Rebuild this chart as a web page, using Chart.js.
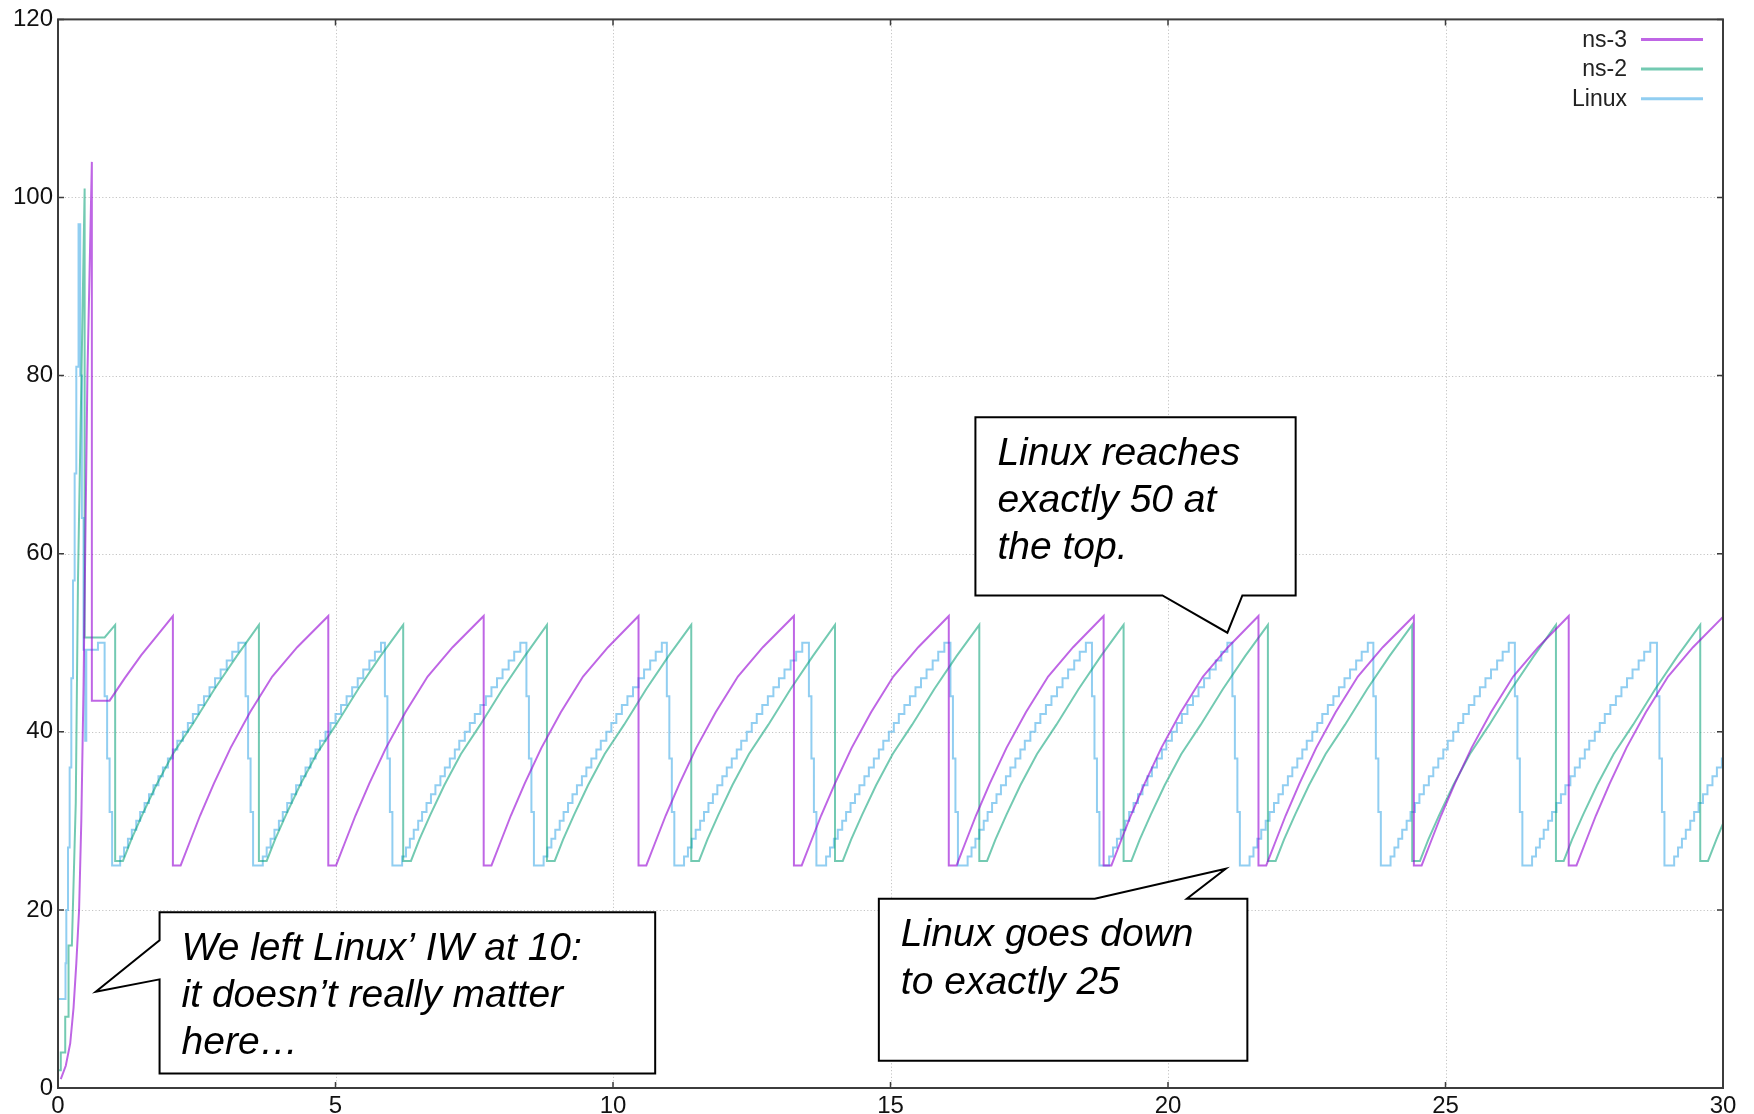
<!DOCTYPE html>
<html>
<head>
<meta charset="utf-8">
<script src="https://cdn.jsdelivr.net/npm/chart.js@4.4.1/dist/chart.umd.min.js"></script>
<style>
  html, body { margin: 0; padding: 0; background: #fff; }
  #wrap { width: 1754px; height: 1114px; position: relative; }
</style>
</head>
<body>
<div id="wrap"><canvas id="cwnd"></canvas></div>
<script>
// cwnd (segments) over time (s)
const ns3Time = [
  0.05, 0.14, 0.22, 0.28, 0.33, 0.38, 0.42, 0.46, 0.53, 0.61, 0.61, 0.93, 1.2, 1.5, 1.8,
  2.07, 2.07, 2.21, 2.36, 2.56, 2.81, 3.11, 3.46, 3.86, 4.31,
  4.87, 4.87, 5.01, 5.16, 5.36, 5.61, 5.91, 6.26, 6.66, 7.11,
  7.67, 7.67, 7.81, 7.96, 8.16, 8.41, 8.71, 9.06, 9.46, 9.91,
  10.46, 10.46, 10.60, 10.75, 10.95, 11.20, 11.50, 11.85, 12.25, 12.70,
  13.26, 13.26, 13.40, 13.55, 13.75, 14.00, 14.30, 14.65, 15.05, 15.50,
  16.05, 16.05, 16.19, 16.34, 16.54, 16.79, 17.09, 17.44, 17.84, 18.29,
  18.84, 18.84, 18.98, 19.13, 19.33, 19.58, 19.88, 20.23, 20.63, 21.08,
  21.63, 21.63, 21.77, 21.92, 22.12, 22.37, 22.67, 23.02, 23.42, 23.87,
  24.43, 24.43, 24.57, 24.72, 24.92, 25.17, 25.47, 25.82, 26.22, 26.67,
  27.22, 27.22, 27.36, 27.51, 27.71, 27.96, 28.26, 28.61, 29.01, 29.46, 30.00
];
const ns3Cwnd = [
  1, 2.5, 5, 9, 14, 20, 30, 45, 80, 104, 43.5, 43.5, 46.0, 48.6, 50.9,
  53, 25, 25, 27.4, 30.6, 34.2, 38.2, 42.2, 46.2, 49.5,
  53, 25, 25, 27.4, 30.6, 34.2, 38.2, 42.2, 46.2, 49.5,
  53, 25, 25, 27.4, 30.6, 34.2, 38.2, 42.2, 46.2, 49.5,
  53, 25, 25, 27.4, 30.6, 34.2, 38.2, 42.2, 46.2, 49.5,
  53, 25, 25, 27.4, 30.6, 34.2, 38.2, 42.2, 46.2, 49.5,
  53, 25, 25, 27.4, 30.6, 34.2, 38.2, 42.2, 46.2, 49.5,
  53, 25, 25, 27.4, 30.6, 34.2, 38.2, 42.2, 46.2, 49.5,
  53, 25, 25, 27.4, 30.6, 34.2, 38.2, 42.2, 46.2, 49.5,
  53, 25, 25, 27.4, 30.6, 34.2, 38.2, 42.2, 46.2, 49.5,
  53, 25, 25, 27.4, 30.6, 34.2, 38.2, 42.2, 46.2, 49.5, 52.9
];

const ns2Time = [
  0, 0.05, 0.05, 0.13, 0.13, 0.19, 0.19, 0.25, 0.32, 0.36, 0.48, 0.48, 0.84,
  1.03, 1.03, 1.17, 1.32, 1.52, 1.77, 2.07, 2.42, 2.82, 3.22,
  3.62, 3.62, 3.76, 3.91, 4.11, 4.36, 4.66, 5.01, 5.41, 5.81,
  6.22, 6.22, 6.36, 6.51, 6.71, 6.96, 7.26, 7.61, 8.01, 8.41,
  8.81, 8.81, 8.95, 9.10, 9.30, 9.55, 9.85, 10.20, 10.60, 11.00,
  11.41, 11.41, 11.55, 11.70, 11.90, 12.15, 12.45, 12.80, 13.20, 13.60,
  14.00, 14.00, 14.14, 14.29, 14.49, 14.74, 15.04, 15.39, 15.79, 16.19,
  16.60, 16.60, 16.74, 16.89, 17.09, 17.34, 17.64, 17.99, 18.39, 18.79,
  19.20, 19.20, 19.34, 19.49, 19.69, 19.94, 20.24, 20.59, 20.99, 21.39,
  21.80, 21.80, 21.94, 22.09, 22.29, 22.54, 22.84, 23.19, 23.59, 23.99,
  24.40, 24.40, 24.54, 24.69, 24.89, 25.14, 25.44, 25.79, 26.19, 26.59,
  26.99, 26.99, 27.13, 27.28, 27.48, 27.73, 28.03, 28.38, 28.78, 29.18,
  29.59, 29.59, 29.73, 29.88, 30.00
];
const ns2Cwnd = [
  2, 2, 4, 4, 8, 8, 16, 16, 32, 57, 101, 50.6, 50.6,
  52, 25.5, 25.5, 27.9, 30.7, 34.0, 37.5, 40.8, 44.8, 48.5,
  52, 25.5, 25.5, 27.9, 30.7, 34.0, 37.5, 40.8, 44.8, 48.5,
  52, 25.5, 25.5, 27.9, 30.7, 34.0, 37.5, 40.8, 44.8, 48.5,
  52, 25.5, 25.5, 27.9, 30.7, 34.0, 37.5, 40.8, 44.8, 48.5,
  52, 25.5, 25.5, 27.9, 30.7, 34.0, 37.5, 40.8, 44.8, 48.5,
  52, 25.5, 25.5, 27.9, 30.7, 34.0, 37.5, 40.8, 44.8, 48.5,
  52, 25.5, 25.5, 27.9, 30.7, 34.0, 37.5, 40.8, 44.8, 48.5,
  52, 25.5, 25.5, 27.9, 30.7, 34.0, 37.5, 40.8, 44.8, 48.5,
  52, 25.5, 25.5, 27.9, 30.7, 34.0, 37.5, 40.8, 44.8, 48.5,
  52, 25.5, 25.5, 27.9, 30.7, 34.0, 37.5, 40.8, 44.8, 48.5,
  52, 25.5, 25.5, 27.9, 30.7, 34.0, 37.5, 40.8, 44.8, 48.5,
  52, 25.5, 25.5, 27.9, 29.7
];

// Linux grows one segment per step, drawn as a stepped line
const linuxTime = [
  0, 0.135, 0.15, 0.18, 0.21, 0.24, 0.27, 0.30, 0.33, 0.37, 0.40, 0.43, 0.46, 0.49, 0.51, 0.72, 0.84, 0.885, 0.93, 0.975,
  1.05, 1.12, 1.19, 1.26, 1.33, 1.41, 1.48, 1.56, 1.64, 1.72, 1.81, 1.89, 1.98, 2.07, 2.15, 2.25, 2.34, 2.43, 2.53, 2.63, 2.73, 2.83, 2.93, 3.04, 3.14, 3.25, 3.38, 3.425, 3.47, 3.515,
  3.62, 3.69, 3.76, 3.83, 3.90, 3.98, 4.05, 4.13, 4.21, 4.29, 4.38, 4.46, 4.55, 4.64, 4.72, 4.82, 4.91, 5.00, 5.10, 5.20, 5.30, 5.40, 5.50, 5.61, 5.71, 5.82, 5.89, 5.935, 5.98, 6.025,
  6.13, 6.20, 6.27, 6.34, 6.41, 6.49, 6.56, 6.64, 6.72, 6.80, 6.89, 6.97, 7.06, 7.15, 7.23, 7.33, 7.42, 7.51, 7.61, 7.71, 7.81, 7.91, 8.01, 8.12, 8.22, 8.33, 8.44, 8.485, 8.53, 8.575,
  8.68, 8.75, 8.82, 8.89, 8.96, 9.04, 9.11, 9.19, 9.27, 9.35, 9.44, 9.52, 9.61, 9.70, 9.78, 9.88, 9.97, 10.06, 10.16, 10.26, 10.36, 10.46, 10.56, 10.67, 10.77, 10.88, 10.97, 11.015, 11.06, 11.105,
  11.21, 11.28, 11.35, 11.42, 11.49, 11.57, 11.64, 11.72, 11.80, 11.88, 11.97, 12.05, 12.14, 12.23, 12.31, 12.41, 12.50, 12.59, 12.69, 12.79, 12.89, 12.99, 13.09, 13.20, 13.30, 13.41, 13.53, 13.575, 13.62, 13.665,
  13.77, 13.84, 13.91, 13.98, 14.05, 14.13, 14.20, 14.28, 14.36, 14.44, 14.53, 14.61, 14.70, 14.79, 14.87, 14.97, 15.06, 15.15, 15.25, 15.35, 15.45, 15.55, 15.65, 15.76, 15.86, 15.97, 16.08, 16.125, 16.17, 16.215,
  16.32, 16.39, 16.46, 16.53, 16.60, 16.68, 16.75, 16.83, 16.91, 16.99, 17.08, 17.16, 17.25, 17.34, 17.42, 17.52, 17.61, 17.70, 17.80, 17.90, 18.00, 18.10, 18.20, 18.31, 18.41, 18.52, 18.63, 18.675, 18.72, 18.765,
  18.87, 18.94, 19.01, 19.08, 19.15, 19.23, 19.30, 19.38, 19.46, 19.54, 19.63, 19.71, 19.80, 19.89, 19.97, 20.07, 20.16, 20.25, 20.35, 20.45, 20.55, 20.65, 20.75, 20.86, 20.96, 21.07, 21.16, 21.205, 21.25, 21.295,
  21.40, 21.47, 21.54, 21.61, 21.68, 21.76, 21.83, 21.91, 21.99, 22.07, 22.16, 22.24, 22.33, 22.42, 22.50, 22.60, 22.69, 22.78, 22.88, 22.98, 23.08, 23.18, 23.28, 23.39, 23.49, 23.60, 23.70, 23.745, 23.79, 23.835,
  23.94, 24.01, 24.08, 24.15, 24.22, 24.30, 24.37, 24.45, 24.53, 24.61, 24.70, 24.78, 24.87, 24.96, 25.04, 25.14, 25.23, 25.32, 25.42, 25.52, 25.62, 25.72, 25.82, 25.93, 26.03, 26.14, 26.25, 26.295, 26.34, 26.385,
  26.49, 26.56, 26.63, 26.70, 26.77, 26.85, 26.92, 27.00, 27.08, 27.16, 27.25, 27.33, 27.42, 27.51, 27.59, 27.69, 27.78, 27.87, 27.97, 28.07, 28.17, 28.27, 28.37, 28.48, 28.58, 28.69, 28.81, 28.855, 28.90, 28.945,
  29.05, 29.12, 29.19, 29.26, 29.33, 29.41, 29.48, 29.56, 29.64, 29.72, 29.81, 29.89, 29.98, 30.00
];
const linuxCwnd = [
  10, 14, 20, 27, 36, 46, 57, 69, 81, 97, 80, 64, 49.2, 39, 49.2, 50, 44, 37, 31, 25,
  25, 26, 27, 28, 29, 30, 31, 32, 33, 34, 35, 36, 37, 38, 39, 40, 41, 42, 43, 44, 45, 46, 47, 48, 49, 50, 44, 37, 31, 25,
  25, 26, 27, 28, 29, 30, 31, 32, 33, 34, 35, 36, 37, 38, 39, 40, 41, 42, 43, 44, 45, 46, 47, 48, 49, 50, 44, 37, 31, 25,
  25, 26, 27, 28, 29, 30, 31, 32, 33, 34, 35, 36, 37, 38, 39, 40, 41, 42, 43, 44, 45, 46, 47, 48, 49, 50, 44, 37, 31, 25,
  25, 26, 27, 28, 29, 30, 31, 32, 33, 34, 35, 36, 37, 38, 39, 40, 41, 42, 43, 44, 45, 46, 47, 48, 49, 50, 44, 37, 31, 25,
  25, 26, 27, 28, 29, 30, 31, 32, 33, 34, 35, 36, 37, 38, 39, 40, 41, 42, 43, 44, 45, 46, 47, 48, 49, 50, 44, 37, 31, 25,
  25, 26, 27, 28, 29, 30, 31, 32, 33, 34, 35, 36, 37, 38, 39, 40, 41, 42, 43, 44, 45, 46, 47, 48, 49, 50, 44, 37, 31, 25,
  25, 26, 27, 28, 29, 30, 31, 32, 33, 34, 35, 36, 37, 38, 39, 40, 41, 42, 43, 44, 45, 46, 47, 48, 49, 50, 44, 37, 31, 25,
  25, 26, 27, 28, 29, 30, 31, 32, 33, 34, 35, 36, 37, 38, 39, 40, 41, 42, 43, 44, 45, 46, 47, 48, 49, 50, 44, 37, 31, 25,
  25, 26, 27, 28, 29, 30, 31, 32, 33, 34, 35, 36, 37, 38, 39, 40, 41, 42, 43, 44, 45, 46, 47, 48, 49, 50, 44, 37, 31, 25,
  25, 26, 27, 28, 29, 30, 31, 32, 33, 34, 35, 36, 37, 38, 39, 40, 41, 42, 43, 44, 45, 46, 47, 48, 49, 50, 44, 37, 31, 25,
  25, 26, 27, 28, 29, 30, 31, 32, 33, 34, 35, 36, 37, 38, 39, 40, 41, 42, 43, 44, 45, 46, 47, 48, 49, 50, 44, 37, 31, 25,
  25, 26, 27, 28, 29, 30, 31, 32, 33, 34, 35, 36, 37, 37
];

const seriesLabels = ['ns-3', 'ns-2', 'Linux'];
const seriesColors = ['rgba(148, 0, 211, 0.6)', 'rgba(0, 158, 115, 0.55)', 'rgba(86, 180, 233, 0.65)'];

const xTicks = { min: 0, max: 30, step: 5 };
const yTicks = { min: 0, max: 120, step: 20 };

// speech bubbles, outlines given in data units (time, cwnd)
const callouts = [
  {
    lines: ['We left Linux\u2019 IW at 10:', 'it doesn\u2019t really matter', 'here\u2026'],
    outline: [[1.83, 19.75], [10.76, 19.75], [10.76, 1.62], [1.83, 1.62], [1.83, 12.2], [0.68, 10.8], [1.83, 16.6]]
  },
  {
    lines: ['Linux reaches', 'exactly 50 at', 'the top.'],
    outline: [[16.53, 75.33], [22.30, 75.33], [22.30, 55.32], [21.34, 55.32], [21.07, 51.13], [19.90, 55.32], [16.53, 55.32]]
  },
  {
    lines: ['Linux goes down', 'to exactly 25'],
    outline: [[14.79, 21.26], [18.68, 21.26], [21.04, 24.62], [20.34, 21.26], [21.43, 21.26], [21.43, 3.06], [14.79, 3.06]]
  }
];

const toPoints = (xs, ys) => xs.map((x, i) => ({ x: x, y: ys[i] }));

const frame = {
  id: 'frame',
  beforeDatasetsDraw(chart) {
    const { ctx, chartArea: a, scales: { x, y } } = chart;
    ctx.save();
    ctx.strokeStyle = '#c4c4c4';
    ctx.lineWidth = 1;
    ctx.setLineDash([1.2, 2.2]);
    x.ticks.forEach((t) => {
      if (t.value <= xTicks.min || t.value >= xTicks.max) return;
      const px = Math.round(x.getPixelForValue(t.value)) + 0.5;
      ctx.beginPath(); ctx.moveTo(px, a.top); ctx.lineTo(px, a.bottom); ctx.stroke();
    });
    y.ticks.forEach((t) => {
      if (t.value <= yTicks.min || t.value >= yTicks.max) return;
      const py = Math.round(y.getPixelForValue(t.value)) + 0.5;
      ctx.beginPath(); ctx.moveTo(a.left, py); ctx.lineTo(a.right, py); ctx.stroke();
    });
    ctx.restore();
  },
  afterDatasetsDraw(chart) {
    const { ctx, chartArea: a, scales: { x, y } } = chart;
    ctx.save();
    ctx.strokeStyle = '#3c3c3c';
    ctx.lineWidth = 2;
    ctx.strokeRect(a.left, a.top, a.right - a.left, a.bottom - a.top);
    ctx.lineWidth = 1.5;
    const len = 6;
    x.ticks.forEach((t) => {
      const px = x.getPixelForValue(t.value);
      ctx.beginPath();
      ctx.moveTo(px, a.bottom); ctx.lineTo(px, a.bottom - len);
      ctx.moveTo(px, a.top); ctx.lineTo(px, a.top + len);
      ctx.stroke();
    });
    y.ticks.forEach((t) => {
      const py = y.getPixelForValue(t.value);
      ctx.beginPath();
      ctx.moveTo(a.left, py); ctx.lineTo(a.left + len, py);
      ctx.moveTo(a.right, py); ctx.lineTo(a.right - len, py);
      ctx.stroke();
    });
    ctx.restore();
  },
  afterDraw(chart) {
    const { ctx, chartArea: a, scales: { x, y } } = chart;
    ctx.save();

    // legend, top right inside the frame
    ctx.font = '23px "Liberation Sans", Arial, sans-serif';
    ctx.textAlign = 'right';
    ctx.textBaseline = 'middle';
    chart.data.datasets.forEach((ds, i) => {
      const ly = a.top + 20 + i * 29.7;
      ctx.fillStyle = '#222';
      ctx.fillText(ds.label, a.right - 96, ly + 1);
      ctx.strokeStyle = ds.borderColor;
      ctx.lineWidth = 3;
      ctx.beginPath(); ctx.moveTo(a.right - 82, ly); ctx.lineTo(a.right - 20, ly); ctx.stroke();
    });

    // callouts
    callouts.forEach((c) => {
      const pts = c.outline.map((p) => [x.getPixelForValue(p[0]), y.getPixelForValue(p[1])]);
      ctx.beginPath();
      pts.forEach((p, i) => (i ? ctx.lineTo(p[0], p[1]) : ctx.moveTo(p[0], p[1])));
      ctx.closePath();
      ctx.fillStyle = '#fff';
      ctx.fill();
      ctx.strokeStyle = '#000';
      ctx.lineWidth = 2;
      ctx.lineJoin = 'miter';
      ctx.stroke();
      ctx.fillStyle = '#000';
      ctx.font = 'italic 39px "Liberation Sans", Arial, sans-serif';
      ctx.textAlign = 'left';
      ctx.textBaseline = 'alphabetic';
      c.lines.forEach((line, i) => {
        ctx.fillText(line, pts[0][0] + 22, pts[0][1] + 47.5 + i * 47.4);
      });
    });
    ctx.restore();
  }
};

const renderChart = () => {
  const canvas = document.getElementById('cwnd');
  const series = [toPoints(ns3Time, ns3Cwnd), toPoints(ns2Time, ns2Cwnd), toPoints(linuxTime, linuxCwnd)];
  new Chart(canvas, {
    type: 'line',
    data: {
      datasets: series.map((data, i) => ({
        label: seriesLabels[i],
        data: data,
        borderColor: seriesColors[i],
        borderWidth: 2,
        pointRadius: 0,
        tension: 0,
        fill: false,
        stepped: seriesLabels[i] === 'Linux' ? true : false,
      })),
    },
    options: {
      responsive: true,
      maintainAspectRatio: false,
      animation: false,
      devicePixelRatio: 1,
      parsing: false,
      normalized: true,
      layout: { padding: { top: 17, right: 31, left: 0, bottom: 0 } },
      plugins: { legend: { display: false }, tooltip: { enabled: false } },
      scales: {
        x: {
          type: 'linear',
          min: xTicks.min,
          max: xTicks.max,
          grid: { display: false, drawTicks: false },
          border: { display: false },
          ticks: { stepSize: xTicks.step, padding: 4, color: '#111', font: { size: 24 }, maxRotation: 0 },
          afterFit: (s) => { s.height = 26; },
        },
        y: {
          min: yTicks.min,
          max: yTicks.max,
          grid: { display: false, drawTicks: false },
          border: { display: false },
          ticks: { stepSize: yTicks.step, padding: 5, color: '#111', font: { size: 24 } },
          afterFit: (s) => { s.width = 58; },
        },
      },
    },
    plugins: [frame],
  });
};

Chart.defaults.font.family = '"Liberation Sans", Arial, sans-serif';
renderChart();
</script>
</body>
</html>
